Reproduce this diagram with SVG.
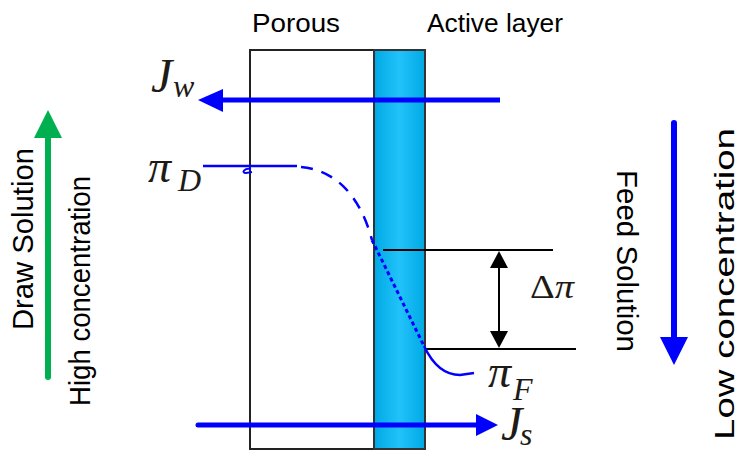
<svg xmlns="http://www.w3.org/2000/svg" width="740" height="451" viewBox="0 0 740 451">
<style>
.lbl{font-family:"Liberation Sans",Arial,sans-serif;fill:#000}
.math{font-family:"Liberation Serif","Times New Roman",serif;font-style:italic;fill:#1e1a16}
.blk{stroke:#000;stroke-width:2;fill:none}
.blue{stroke:#0000ff;fill:none}
</style>
<defs>
<linearGradient id="act" x1="0" y1="0" x2="1" y2="0">
<stop offset="0" stop-color="#00a9e4"/>
<stop offset="0.5" stop-color="#22c2fa"/>
<stop offset="1" stop-color="#00a9e4"/>
</linearGradient>
</defs>
<rect width="740" height="451" fill="#fff"/>

<g id="porous">
<rect x="250" y="50" width="124" height="399" fill="#fff" stroke="#222" stroke-width="2"/>
<text class="lbl" x="252" y="32" font-size="25" textLength="88" lengthAdjust="spacingAndGlyphs">Porous</text>
</g>
<g id="active-layer">
<rect x="374" y="50" width="51" height="399" fill="url(#act)" stroke="#333" stroke-width="2"/>
<text class="lbl" x="427" y="32" font-size="25" textLength="136" lengthAdjust="spacingAndGlyphs">Active layer</text>
</g>

<g id="draw-solution">
<text class="lbl" transform="translate(33,330) rotate(-90)" font-size="29" textLength="182" lengthAdjust="spacingAndGlyphs">Draw Solution</text>
<text class="lbl" transform="translate(90,406) rotate(-90)" font-size="30" textLength="230" lengthAdjust="spacingAndGlyphs">High concentration</text>
</g>
<g id="feed-solution">
<text class="lbl" transform="translate(617,170) rotate(90)" font-size="29" textLength="182" lengthAdjust="spacingAndGlyphs">Feed Solution</text>
<text class="lbl" transform="translate(734,440) rotate(-90)" font-size="27" textLength="312" lengthAdjust="spacingAndGlyphs">Low  concentration</text>
</g>

<g id="labels">
<text class="math" x="151" y="92" font-size="48">J</text>
<text class="math" x="173" y="97" font-size="32">w</text>
<text class="math" x="148" y="182" font-size="46">π</text>
<text class="math" x="178" y="191" font-size="32">D</text>
<text class="math" x="488" y="387" font-size="46">π</text>
<text class="math" x="513" y="400" font-size="32">F</text>
<text class="math" x="501" y="440" font-size="48">J</text>
<text class="math" x="520" y="445" font-size="32">s</text>
<text x="530" y="298" font-family="'Liberation Serif','Times New Roman',serif" font-size="34" fill="#1e1a16" textLength="44" lengthAdjust="spacingAndGlyphs">Δ<tspan font-style="italic">π</tspan></text>
</g>

<g id="connectors">
<line class="blk" x1="383" y1="250" x2="553" y2="250"/>
<line class="blk" x1="425" y1="349" x2="576" y2="349"/>
<line class="blk" x1="499" y1="262" x2="499" y2="337"/>
<polygon points="499,251 490,268 508,268" fill="#000"/>
<polygon points="499,348 490,331 508,331" fill="#000"/>

<path class="blue" stroke-width="2.5" d="M203,166 L297,166"/>
<path class="blue" stroke-width="2" d="M251,169 C244,168 241,173 246,173 L252,172"/>
<path class="blue" stroke-width="2.5" stroke-dasharray="12,9" d="M301,167 C335,170 360,195 372,240"/>
<path class="blue" stroke-width="3" stroke-dasharray="4,3" d="M372,240 L424,346"/>
<path class="blue" stroke-width="2.5" d="M424,346 C433,365 445,375 460,375 L474,373"/>

<line class="blue" stroke-width="5" x1="500" y1="100" x2="218" y2="100"/>
<polygon points="198,100 223,89 223,112" fill="#0000ff"/>
<line class="blue" stroke-width="5" stroke-linecap="round" x1="198" y1="425" x2="480" y2="425"/>
<polygon points="498,425 476,414 476,436" fill="#0000ff"/>

<line stroke="#00b050" stroke-width="6" stroke-linecap="round" x1="48" y1="377" x2="48" y2="134"/>
<polygon points="48,110 34,138 62,138" fill="#00b050"/>
<line stroke="#0000ff" stroke-width="6" stroke-linecap="round" x1="674" y1="123" x2="674" y2="340"/>
<polygon points="674,365 660,337 688,337" fill="#0000ff"/>
</g>
</svg>
